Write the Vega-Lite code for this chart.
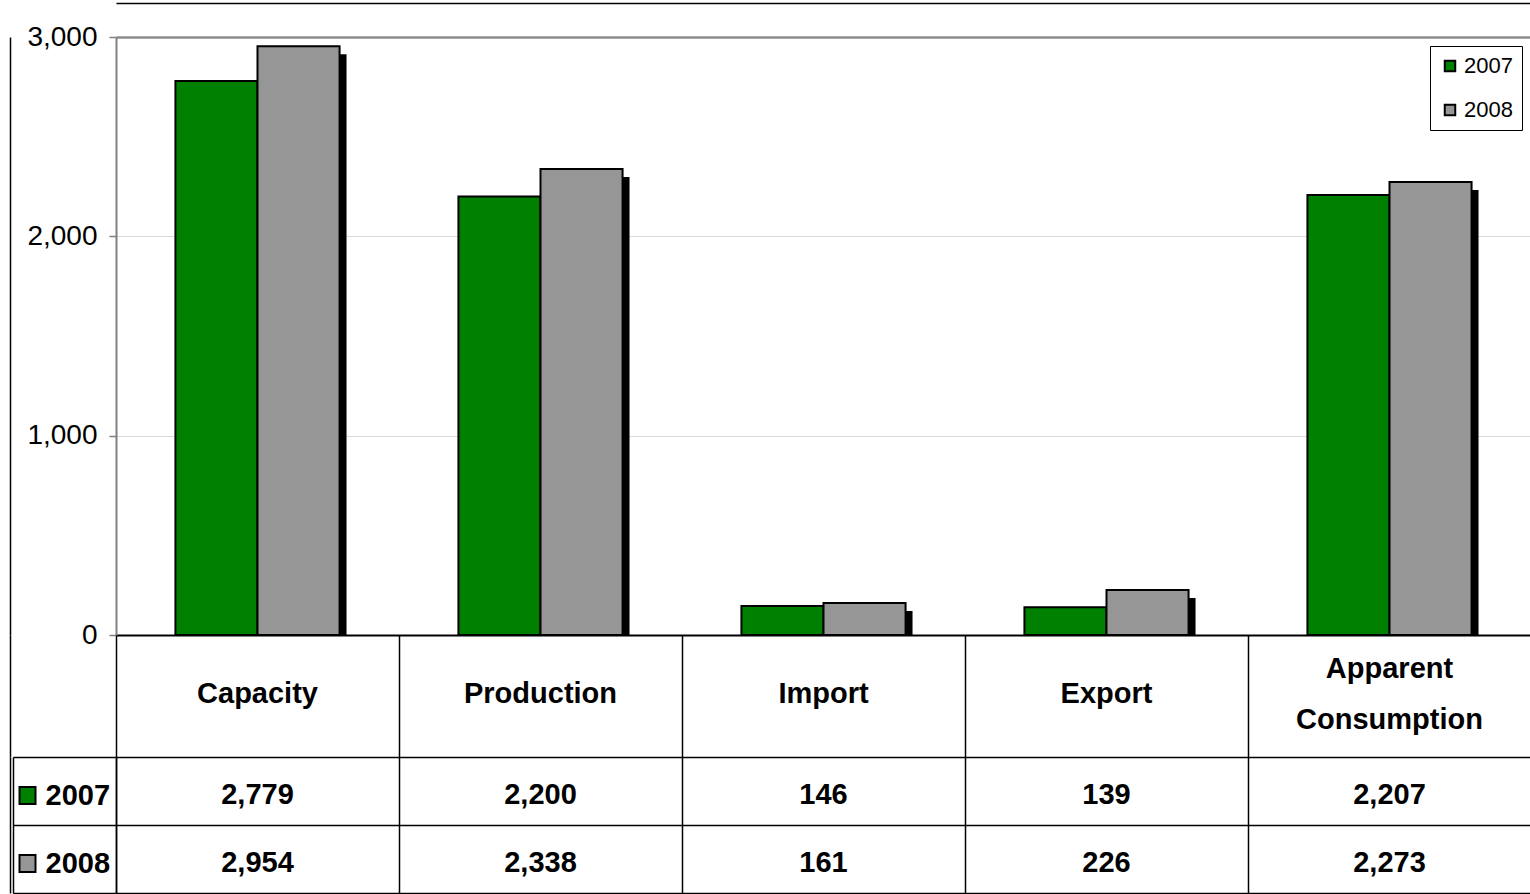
{
  "$schema": "https://vega.github.io/schema/vega-lite/v6.json",
  "padding": {"left": 8, "top": 3, "right": 0, "bottom": 0},
  "background": "white",
  "bounds": "flush",
  "spacing": 0,
  "datasets": {
    "bars": [
      {"category": "Capacity", "year": "2007", "value": 2779},
      {"category": "Capacity", "year": "2008", "value": 2954},
      {"category": "Production", "year": "2007", "value": 2200},
      {"category": "Production", "year": "2008", "value": 2338},
      {"category": "Import", "year": "2007", "value": 146},
      {"category": "Import", "year": "2008", "value": 161},
      {"category": "Export", "year": "2007", "value": 139},
      {"category": "Export", "year": "2008", "value": 226},
      {"category": "Apparent Consumption", "year": "2007", "value": 2207},
      {"category": "Apparent Consumption", "year": "2008", "value": 2273}
    ],
    "header": [
      {"category": "Capacity", "label": "Capacity", "row": "h"},
      {"category": "Production", "label": "Production", "row": "h"},
      {"category": "Import", "label": "Import", "row": "h"},
      {"category": "Export", "label": "Export", "row": "h"},
      {"category": "Apparent Consumption", "label": "Apparent\nConsumption", "row": "h"}
    ]
  },
  "resolve": {"scale": {"x": "independent", "color": "shared"}, "legend": {"color": "independent"}},
  "vconcat": [
    {
      "width": 1415,
      "height": 598,
      "data": {"name": "bars"},
      "layer": [
        {
          "transform": [{"filter": "datum.year === '2008'"}],
          "mark": {"type": "bar", "color": "black", "width": {"band": 0.5}, "xOffset": 48, "yOffset": 8},
          "encoding": {
            "x": {"field": "category", "type": "nominal", "sort": ["Capacity", "Production", "Import", "Export", "Apparent Consumption"], "scale": {"paddingInner": 0.42, "paddingOuter": 0.21}, "axis": {"orient": "top", "offset": 34, "title": null, "labels": false, "ticks": false, "domain": true, "domainColor": "black", "domainWidth": 1.5}},
            "y": {"field": "value", "type": "quantitative", "scale": {"domain": [0, 3000], "nice": false}, "axis": {"orient": "left", "offset": 106, "title": null, "labels": false, "ticks": false, "grid": false, "domain": true, "domainColor": "black", "domainWidth": 1.5}},
            "y2": {"datum": 0}
          }
        },
        {
          "mark": {"type": "bar", "stroke": "black", "strokeWidth": 2},
          "encoding": {
            "x": {"field": "category", "type": "nominal", "sort": ["Capacity", "Production", "Import", "Export", "Apparent Consumption"], "axis": {"orient": "bottom", "title": null, "labels": false, "ticks": false, "domainColor": "black", "domainWidth": 2}},
            "xOffset": {"field": "year", "type": "nominal", "scale": {"domain": ["2007", "2008"]}},
            "y": {"field": "value", "type": "quantitative", "axis": {"orient": "left", "title": null, "values": [0, 1000, 2000, 3000], "format": ",d", "labelFontSize": 28, "labelColor": "black", "labelPadding": 12, "labelFlush": false, "tickSize": 7, "tickColor": "#808080", "tickWidth": 1.5, "domainColor": "#808080", "domainWidth": 2, "grid": true, "gridColor": {"condition": {"test": "datum.value === 3000", "value": "#8c8c8c"}, "value": "#dadada"}, "gridWidth": {"condition": {"test": "datum.value === 3000", "value": 2.5}, "value": 1}}},
            "color": {"field": "year", "type": "nominal", "scale": {"domain": ["2007", "2008"], "range": ["#008000", "#969696"]}, "legend": {"title": null, "orient": "top-right", "offset": 9, "strokeColor": "black", "fillColor": "white", "padding": 9, "symbolType": "square", "symbolSize": 110, "symbolStrokeColor": "black", "symbolStrokeWidth": 2, "labelFontSize": 22, "labelColor": "black", "rowPadding": 22, "labelOffset": 3}}
          }
        }
      ],
      "resolve": {"axis": {"x": "independent", "y": "independent"}}
    },
    {
      "width": 1415,
      "height": 122,
      "data": {"name": "header"},
      "encoding": {
        "x": {"field": "category", "type": "nominal", "sort": ["Capacity", "Production", "Import", "Export", "Apparent Consumption"], "scale": {"paddingInner": 0, "paddingOuter": 0}, "axis": {"title": null, "labels": false, "ticks": false, "domain": false, "grid": true, "tickBand": "extent", "gridColor": "black", "gridWidth": 1.5, "gridOpacity": 1}},
        "y": {"field": "row", "type": "nominal", "scale": {"paddingInner": 0, "paddingOuter": 0}, "axis": {"orient": "left", "offset": 106, "title": null, "labels": false, "ticks": false, "grid": false, "domain": true, "domainColor": "black", "domainWidth": 1.5}},
        "text": {"field": "label"}
      },
      "layer": [
        {"transform": [{"filter": "datum.category !== 'Apparent Consumption'"}], "mark": {"type": "text", "fontSize": 29, "fontWeight": "bold", "baseline": "middle", "color": "black", "dy": -2}},
        {"transform": [{"filter": "datum.category === 'Apparent Consumption'"}], "mark": {"type": "text", "fontSize": 29, "fontWeight": "bold", "lineBreak": "\n", "lineHeight": 51, "baseline": "middle", "dy": -27, "color": "black"}}
      ]
    },
    {
      "width": 1415,
      "height": 136,
      "data": {"name": "bars"},
      "encoding": {
        "x": {"field": "category", "type": "nominal", "sort": ["Capacity", "Production", "Import", "Export", "Apparent Consumption"], "scale": {"paddingInner": 0, "paddingOuter": 0}, "axis": {"title": null, "labels": false, "ticks": false, "domain": false, "grid": true, "tickBand": "extent", "gridColor": "black", "gridWidth": 1.5, "gridOpacity": 1}},
        "text": {"field": "value", "type": "quantitative", "format": ",d"}
      },
      "layer": [
        {"mark": {"type": "text", "fontSize": 29, "fontWeight": "bold", "color": "black", "dy": 4},
         "encoding": {"y": {"field": "year", "type": "nominal", "scale": {"domain": ["2007", "2008"], "paddingInner": 0, "paddingOuter": 0}, "axis": {"orient": "left", "title": null, "labels": false, "domain": true, "domainColor": "black", "domainWidth": 1.5, "ticks": true, "tickBand": "extent", "tickSize": 103, "tickColor": "black", "tickWidth": 1.5, "grid": true, "gridColor": "black", "gridWidth": 1.5, "gridOpacity": 1}}}},
        {"mark": {"type": "text", "opacity": 0},
         "encoding": {"y": {"field": "year", "type": "nominal", "axis": {"orient": "left", "offset": 80, "title": null, "labels": false, "domain": false, "grid": false, "ticks": true, "tickOffset": 4, "tickSize": 18, "tickWidth": 19, "tickColor": "black"}}}},
        {"mark": {"type": "text", "opacity": 0},
         "encoding": {"y": {"field": "year", "type": "nominal", "axis": {"orient": "left", "offset": 82, "title": null, "domain": false, "grid": false, "ticks": true, "tickOffset": 4, "tickSize": 14, "tickWidth": 15, "tickColor": {"condition": {"test": "datum.value === '2007'", "value": "#008000"}, "value": "#969696"}, "labels": true, "labelAlign": "left", "labelPadding": -25, "labelFontSize": 29, "labelFontWeight": "bold", "labelColor": "black"}}}},
        {"mark": {"type": "text", "opacity": 0},
         "encoding": {"y": {"field": "year", "type": "nominal", "axis": {"orient": "left", "offset": 103, "title": null, "labels": false, "ticks": false, "grid": false, "domain": true, "domainColor": "black", "domainWidth": 1.5}}}},
        {"mark": {"type": "text", "opacity": 0},
         "encoding": {"y": {"field": "year", "type": "nominal", "axis": {"orient": "left", "offset": 106, "title": null, "labels": false, "ticks": false, "grid": false, "domain": true, "domainColor": "black", "domainWidth": 1.5}}}}
      ],
      "resolve": {"axis": {"y": "independent"}}
    }
  ],
  "config": {
    "view": {"stroke": null},
    "font": "Liberation Sans, Arial, sans-serif"
  }
}
